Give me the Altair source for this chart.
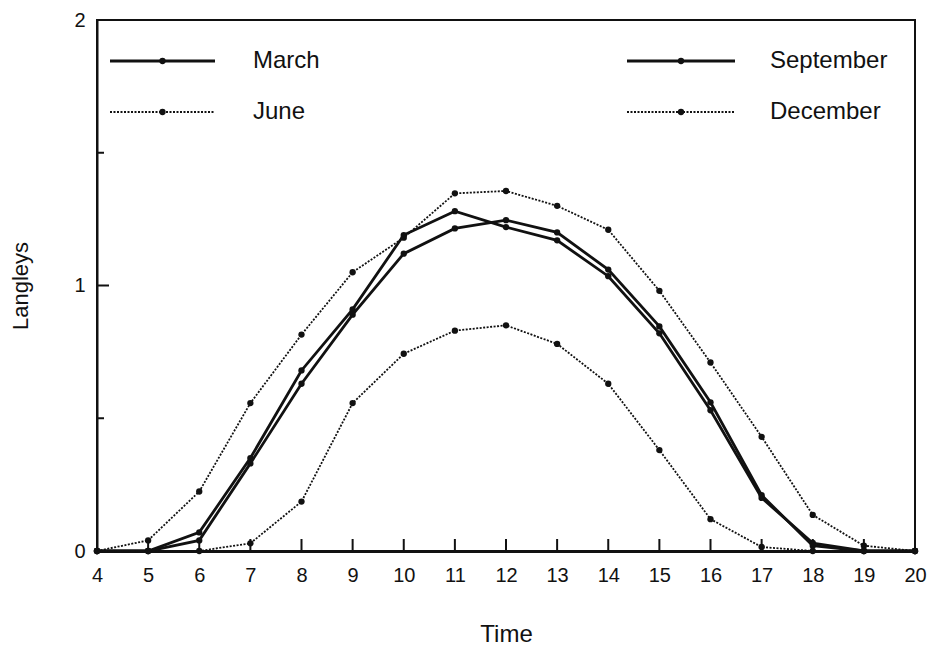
import altair as alt
import pandas as pd

hours = list(range(4, 21))
march = [0, 0, 0.07, 0.35, 0.68, 0.91, 1.19, 1.28, 1.22, 1.17, 1.035, 0.82, 0.53, 0.20, 0.03, 0, 0]
june = [0, 0.04, 0.224, 0.557, 0.815, 1.05, 1.18, 1.347, 1.356, 1.30, 1.21, 0.98, 0.71, 0.43, 0.136, 0.02, 0]
september = [0, 0, 0.04, 0.33, 0.63, 0.89, 1.12, 1.215, 1.246, 1.20, 1.06, 0.846, 0.56, 0.21, 0.02, 0, 0]
december = [0, 0, 0, 0.029, 0.186, 0.557, 0.743, 0.83, 0.85, 0.78, 0.63, 0.38, 0.12, 0.015, 0, 0, 0]

series_names = ["March", "June", "September", "December"]
series_vals = [march, june, september, december]
x_ticks = list(range(4, 21))
y_major = [0, 1, 2]
y_minor = [0.5, 1.5]

FONT = "Liberation Sans"
INK = "#111111"
W, H = 818, 531

styles = {
    "March": dict(strokeWidth=2.8),
    "September": dict(strokeWidth=2.8),
    "June": dict(strokeWidth=1.8, strokeDash=[2, 1.5]),
    "December": dict(strokeWidth=1.8, strokeDash=[2, 1.5]),
}

rows = []
for name, vals in zip(series_names, series_vals):
    for h, v in zip(hours, vals):
        rows.append({"series": name, "hour": h, "value": v})
df = pd.DataFrame(rows)

xscale = alt.Scale(domain=[4, 20], nice=False, zero=False)
yscale = alt.Scale(domain=[0, 2], nice=False)
xaxis = alt.Axis(values=x_ticks, title="Time", tickSize=0, labelPadding=14, format=".0f",
                 labelFlush=False, labelOverlap=False,
                 labelFontSize=20, titleFontSize=24, titlePadding=37,
                 domainWidth=3, domainColor=INK, grid=False,
                 labelFont=FONT, titleFont=FONT, titleFontWeight="normal",
                 labelColor=INK, titleColor=INK)
yaxis = alt.Axis(values=y_major, title="Langleys", tickSize=0, labelPadding=12, format=".0f",
                 labelFlush=False, labelOverlap=False,
                 labelFontSize=20, titleFontSize=22, titlePadding=41,
                 domainWidth=2, domainColor=INK, grid=False,
                 labelFont=FONT, titleFont=FONT, titleFontWeight="normal",
                 labelColor=INK, titleColor=INK)


def X(f):
    return alt.X(f, scale=xscale, axis=xaxis, title="Time")


def Y(f):
    return alt.Y(f, scale=yscale, axis=yaxis, title="Langleys")


layers = []
for name in series_names:
    sub = df[df.series == name]
    layers.append(alt.Chart(sub).mark_line(color=INK, **styles[name]).encode(x=X("hour:Q"), y=Y("value:Q")))
    layers.append(alt.Chart(sub).mark_point(filled=True, color=INK, size=40, opacity=1, shape="circle").encode(
        x=X("hour:Q"), y=Y("value:Q")))

# inward ticks
xt = alt.Chart(pd.DataFrame({"t": x_ticks[1:-1]})).mark_rule(color=INK, strokeWidth=2).encode(
    x=X("t:Q"), y=alt.value(H), y2=alt.value(H - 12))
ytmaj = alt.Chart(pd.DataFrame({"t": [1]})).mark_rule(color=INK, strokeWidth=2).encode(
    y=Y("t:Q"), x=alt.value(0), x2=alt.value(12))
ytmin = alt.Chart(pd.DataFrame({"t": y_minor})).mark_rule(color=INK, strokeWidth=2).encode(
    y=Y("t:Q"), x=alt.value(0), x2=alt.value(7))
layers += [xt, ytmaj, ytmin]

# manual legend
legend_pos = {
    "March": (13, 118, 156, 41),
    "June": (13, 118, 156, 92),
    "September": (530, 638, 673, 41),
    "December": (530, 638, 673, 92),
}
for name in series_names:
    x1, x2, tx, ly = legend_pos[name]
    d = pd.DataFrame({"s": [name]})
    layers.append(alt.Chart(d).mark_rule(color=INK, **styles[name]).encode(
        x=alt.value(x1), x2=alt.value(x2), y=alt.value(ly)))
    layers.append(alt.Chart(d).mark_point(filled=True, color=INK, size=40, opacity=1).encode(
        x=alt.value((x1 + x2) / 2), y=alt.value(ly)))
    layers.append(alt.Chart(d).mark_text(align="left", baseline="middle", font=FONT, fontSize=24,
                                         color=INK).encode(
        x=alt.value(tx), y=alt.value(ly), text="s:N"))

chart = alt.layer(*layers).properties(
    width=W, height=H,
    autosize=alt.AutoSizeParams(type="none"),
    padding={"left": 97, "top": 20, "right": 17, "bottom": 98},
    background="white",
).configure_view(stroke=INK, strokeWidth=2)

chart.save("out.html", embed_options={"renderer": "svg", "actions": False})
